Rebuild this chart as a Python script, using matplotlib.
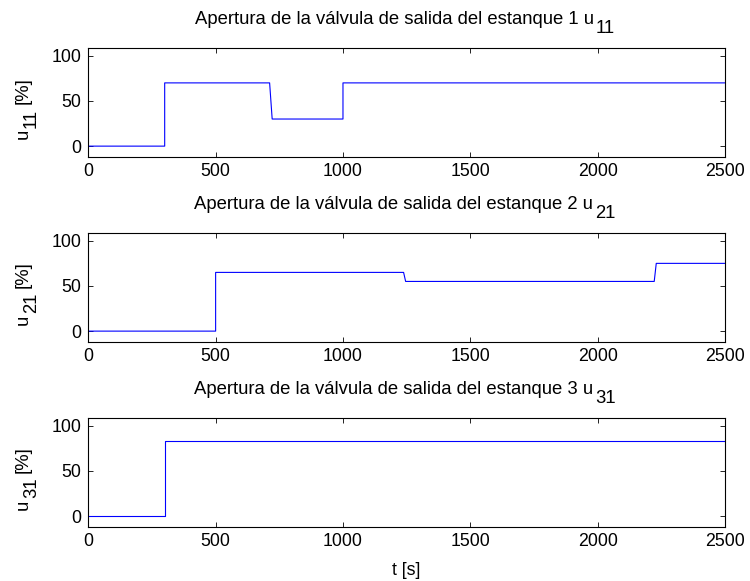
import matplotlib
matplotlib.use("Agg")
import matplotlib.pyplot as plt

# Data (time [s], opening [%])
t_u11 = [0, 300, 300, 712, 722, 1000, 1000, 2500]
v_u11 = [0, 0, 70, 70, 30, 30, 70, 70]

t_u21 = [0, 500, 500, 1238, 1246, 2222, 2230, 2500]
v_u21 = [0, 0, 65, 65, 55, 55, 75, 75]

t_u31 = [0, 300, 300, 2500]
v_u31 = [0, 0, 83, 83]

title_main = [
    "Apertura de la válvula de salida del estanque 1 u",
    "Apertura de la válvula de salida del estanque 2 u",
    "Apertura de la válvula de salida del estanque 3 u",
]
subs = ["11", "21", "31"]
ylabel_main = "u"
ylabel_unit = "[%]"
xlabel = "t [s]"
xticks = [0, 500, 1000, 1500, 2000, 2500]
yticks = [0, 50, 100]

plt.rcParams['font.family'] = ['Liberation Sans', 'DejaVu Sans']

DPI = 100
W, H = 750, 581
fig = plt.figure(figsize=(W / DPI, H / DPI), dpi=DPI)
renderer = fig.canvas.get_renderer()

left, width, height = 0.1177, 0.849, 0.1866
bottoms = [0.7306, 0.4122, 0.0938]
series = [(t_u11, v_u11), (t_u21, v_u21), (t_u31, v_u31)]

TFS = 13.3   # title font size
YFS = 13.3   # ylabel font size
SUB_DROP = 8.5  # px subscript lowering


def text_width(s, fs):
    t = fig.text(0, 0, s, fontsize=fs)
    w = t.get_window_extent(renderer).width
    t.remove()
    return w


def px2fig(x, y):
    return x / W, y / H


for i, (tt, vv) in enumerate(series):
    ax = fig.add_axes([left, bottoms[i], width, height])
    ax.plot(tt, vv, color=(0, 0, 1), lw=0.8)
    ax.set_xlim(0, 2500)
    ax.set_ylim(-11.5, 108.5)
    ax.set_xticks(xticks)
    ax.set_yticks(yticks)
    ax.tick_params(direction='in', top=True, right=True, length=3.5,
                   width=0.6, labelsize=12.8, pad=5)
    for s in ax.spines.values():
        s.set_linewidth(0.8)
    if i == 2:
        ax.set_xlabel(xlabel, fontsize=12.8, labelpad=8)

    # axes box in pixels (display coords, origin bottom-left)
    ax_l = left * W
    ax_r = (left + width) * W
    ax_b = bottoms[i] * H
    ax_t = (bottoms[i] + height) * H

    # Title with MATLAB-style lowered subscript
    wm = text_width(title_main[i], TFS)
    ws = text_width(subs[i], TFS)
    gap = 2
    total = wm + gap + ws
    cx = (ax_l + ax_r) / 2 - 2
    x0 = cx - total / 2
    base_y = ax_t + 23.7
    fig.text(*px2fig(x0, base_y), title_main[i], fontsize=TFS,
             ha='left', va='baseline')
    fig.text(*px2fig(x0 + wm + gap, base_y - SUB_DROP), subs[i], fontsize=TFS,
             ha='left', va='baseline')

    # Y label, rotated, with lowered subscript
    wu = text_width(ylabel_main, YFS)
    wsub = text_width(subs[i], YFS)
    wunit = text_width(ylabel_unit, YFS)
    sp = 5
    tot = wu + 1 + wsub + sp + wunit
    cy = (ax_b + ax_t) / 2 - 5.5
    y0 = cy - tot / 2
    bx = 27.5  # baseline x (px from left)
    fig.text(*px2fig(bx, y0), ylabel_main, fontsize=YFS, rotation=90,
             rotation_mode='anchor', ha='left', va='baseline')
    fig.text(*px2fig(bx + SUB_DROP, y0 + wu + 1), subs[i], fontsize=YFS,
             rotation=90, rotation_mode='anchor', ha='left', va='baseline')
    fig.text(*px2fig(bx, y0 + wu + 1 + wsub + sp), ylabel_unit, fontsize=YFS,
             rotation=90, rotation_mode='anchor', ha='left', va='baseline')

fig.savefig("out.png", dpi=DPI)
